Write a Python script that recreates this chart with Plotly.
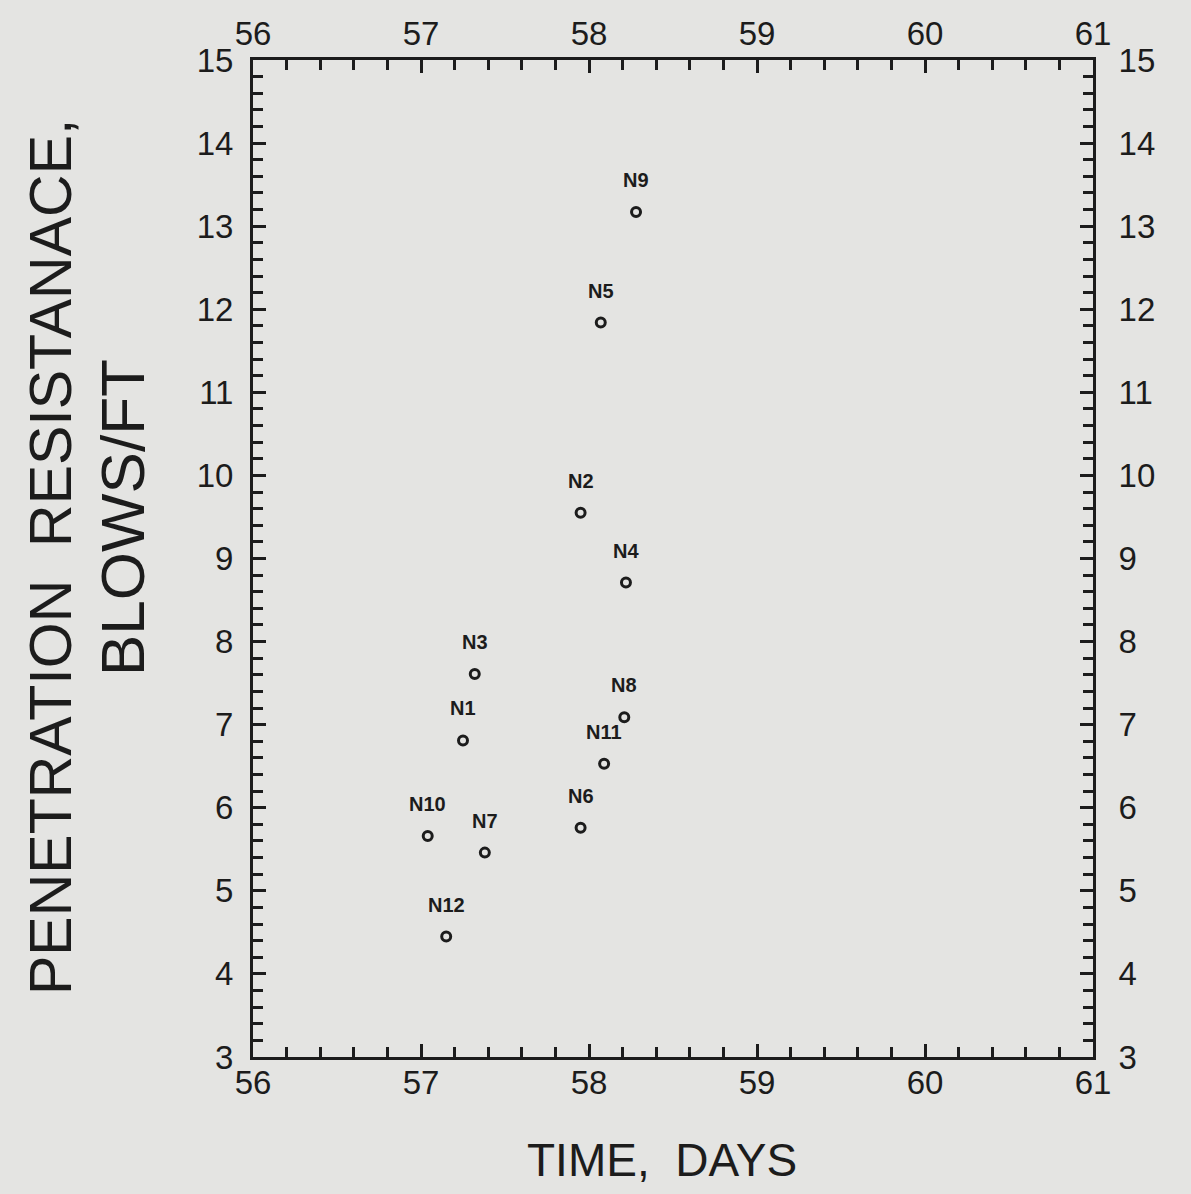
import plotly.graph_objects as go

# Data
labels = ["N1", "N2", "N3", "N4", "N5", "N6", "N7", "N8", "N9", "N10", "N11", "N12"]
time_days = [57.25, 57.95, 57.32, 58.22, 58.07, 57.95, 57.38, 58.21, 58.28, 57.04, 58.09, 57.15]
resistance = [6.81, 9.55, 7.61, 8.71, 11.84, 5.76, 5.46, 7.09, 13.17, 5.66, 6.53, 4.45]

x_range = [56, 61]
y_range = [3, 15]

BG = "#e4e4e2"
INK = "#1c1c1c"
FONT = "Liberation Sans, Arial, sans-serif"

fig = go.Figure()
fig.add_trace(go.Scatter(
    x=time_days, y=resistance, mode="markers",
    marker=dict(symbol="circle-open", size=9, color=INK, line=dict(width=3, color=INK)),
    hoverinfo="text", text=labels, showlegend=False,
))
# invisible trace on the mirrored (top/right) axes
fig.add_trace(go.Scatter(
    x=time_days, y=resistance, xaxis="x2", yaxis="y2", mode="markers",
    marker=dict(opacity=0), hoverinfo="skip", showlegend=False,
))

for lab, xv, yv in zip(labels, time_days, resistance):
    fig.add_annotation(x=xv, y=yv, xref="x", yref="y", text=f"<b>{lab}</b>",
                       showarrow=False, yshift=32,
                       font=dict(family=FONT, size=20, color=INK))

axis_common = dict(
    showgrid=False, zeroline=False, showline=True, linewidth=3, automargin=False,
    linecolor=INK, ticks="inside", ticklen=13, tickwidth=2.5, tickcolor=INK,
    dtick=1, tickfont=dict(family=FONT, size=33, color=INK),
    minor=dict(ticks="inside", ticklen=10, tickwidth=2.5, tickcolor=INK, dtick=0.2, showgrid=False),
)

fig.update_layout(
    width=1191, height=1194,
    paper_bgcolor=BG, plot_bgcolor=BG,
    margin=dict(l=253, r=98, t=60, b=137),
    xaxis=dict(axis_common, range=x_range, side="bottom", anchor="y", tick0=56, ticklabelstandoff=-6),
    xaxis2=dict(axis_common, range=x_range, side="top", anchor="y", overlaying="x", tick0=56, ticklabelstandoff=-1),
    yaxis=dict(axis_common, range=y_range, side="left", anchor="x", tick0=3, ticklabelstandoff=10),
    yaxis2=dict(axis_common, range=y_range, side="right", anchor="x", overlaying="y", tick0=3, ticklabelstandoff=16),
)

fig.add_annotation(x=0.487, y=-0.1033, xref="paper", yref="paper", text="TIME,  DAYS",
                   showarrow=False, xanchor="center", yanchor="middle",
                   font=dict(family=FONT, size=46, color=INK))
fig.add_annotation(x=-0.2405, y=0.5015, xref="paper", yref="paper",
                   text="PENETRATION  RESISTANACE,", textangle=-90,
                   showarrow=False, xanchor="center", yanchor="middle",
                   font=dict(family=FONT, size=59, color=INK))
fig.add_annotation(x=-0.156, y=0.5416, xref="paper", yref="paper",
                   text="BLOWS/FT", textangle=-90,
                   showarrow=False, xanchor="center", yanchor="middle",
                   font=dict(family=FONT, size=62, color=INK))

fig.write_html("out.html")
